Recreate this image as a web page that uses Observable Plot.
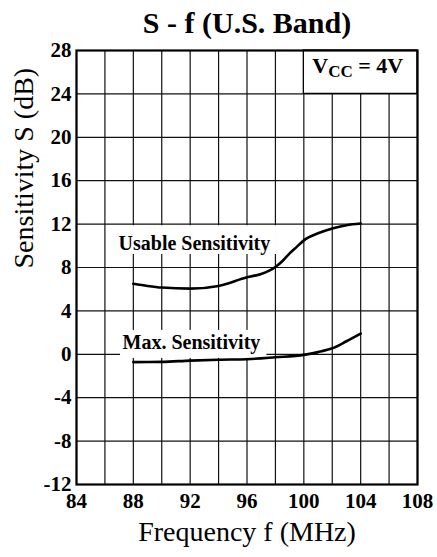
<!DOCTYPE html>
<html><head><meta charset="utf-8">
<script src="https://cdn.jsdelivr.net/npm/d3@7"></script>
<script src="https://cdn.jsdelivr.net/npm/@observablehq/plot@0.6"></script>
<style>
html,body{margin:0;padding:0;background:#fff;}
svg{display:block}
svg text, svg tspan{font-family:"Liberation Serif","Times New Roman","DejaVu Serif",serif !important;}
</style>
</head><body><div id="chart"></div>
<script>
// ---- data ----
const title = "S - f (U.S. Band)";
const xLabel = "Frequency f (MHz)";
const yLabel = "Sensitivity S (dB)";
const xTicks = [84, 88, 92, 96, 100, 104, 108];
const xGrid = [84, 86, 88, 90, 92, 94, 96, 98, 100, 102, 104, 106, 108];
const yTicks = [-12, -8, -4, 0, 4, 8, 12, 16, 20, 24, 28];
const seriesNames = ["Usable Sensitivity", "Max. Sensitivity"];
const usableFreq = [88, 89, 90, 92, 94, 96, 97, 98, 98.5, 99, 99.5, 100, 101, 102, 103, 104];
const usableSens = [6.5, 6.3, 6.15, 6.05, 6.3, 7.1, 7.4, 8.05, 8.6, 9.3, 9.9, 10.5, 11.15, 11.6, 11.9, 12.05];
const maxFreq = [88, 90, 92, 94, 96, 98, 100, 101, 102, 103, 104];
const maxSens = [-0.72, -0.7, -0.58, -0.5, -0.45, -0.27, -0.05, 0.2, 0.55, 1.2, 1.9];
const vccParts = ["V", "CC", " = 4V"];

// ---- build ----
const usable = usableFreq.map((f, i) => ({f, s: usableSens[i]}));
const maxS = maxFreq.map((f, i) => ({f, s: maxSens[i]}));
const vccText = vccParts.join("");
const font = "Liberation Serif";

// annotation placement (data coordinates)
const vccBox = [{x1: 100, x2: 108, y1: 24, y2: 28}];
const labelBoxes = [
  {x1: 86.7, x2: 98.1, y1: 9.2, y2: 11.85},
  {x1: 87.1, x2: 97.4, y1: -0.38, y2: 2.2}
];
const labelPos = [
  {text: seriesNames[0], x: 86.96, y: 9.6},
  {text: seriesNames[1], x: 87.24, y: 0.53}
];

const plot = Plot.plot({
  width: 437, height: 557,
  marginTop: 50, marginLeft: 76, marginRight: 20, marginBottom: 73,
  style: {fontFamily: font, background: "white", color: "black"},
  x: {domain: [84, 108]},
  y: {domain: [-12, 28]},
  marks: [
    Plot.ruleX(xGrid, {stroke: "#111", strokeWidth: 1.2}),
    Plot.ruleY(yTicks, {stroke: "#111", strokeWidth: 1.2}),
    Plot.rect(labelBoxes, {x1: "x1", x2: "x2", y1: "y1", y2: "y2", fill: "white"}),
    Plot.rect(vccBox, {x1: "x1", x2: "x2", y1: "y1", y2: "y2", fill: "white", stroke: "black", strokeWidth: 1.3}),
    Plot.line(usable, {x: "f", y: "s", curve: "monotone-x", stroke: "black", strokeWidth: 2.6}),
    Plot.line(maxS, {x: "f", y: "s", curve: "monotone-x", stroke: "black", strokeWidth: 2.6}),
    Plot.frame({stroke: "black", strokeWidth: 2.2}),
    Plot.axisX({ticks: xTicks, tickFormat: d => String(d), tickSize: 0, tickPadding: 9, fontSize: 21, fontWeight: "bold", fontFamily: font, label: null}),
    Plot.axisY({ticks: yTicks, tickFormat: d => String(d), tickSize: 0, tickPadding: 5, fontSize: 21, fontWeight: "bold", fontFamily: font, label: null}),
    Plot.text([title], {text: d => d, frameAnchor: "top", dy: -18, lineAnchor: "bottom", fontSize: 30, fontWeight: "bold", fontFamily: font}),
    Plot.text([xLabel], {text: d => d, frameAnchor: "bottom", dy: 56, lineAnchor: "bottom", fontSize: 28, fontFamily: font}),
    Plot.text([yLabel], {text: d => d, frameAnchor: "left", dx: -44, dy: 1, rotate: -90, lineAnchor: "bottom", fontSize: 28, fontFamily: font}),
    Plot.text(labelPos, {x: "x", y: "y", text: "text", textAnchor: "start", lineAnchor: "bottom", fontSize: 20, fontWeight: "bold", fontFamily: font}),
    Plot.text([vccText], {text: d => d, x: () => 100.6, y: () => 25.97, textAnchor: "start", lineAnchor: "bottom", fontSize: 22, fontWeight: "bold", fontFamily: font})
  ]
});

// subscript for V_CC
d3.select(plot).selectAll("text").filter(function() { return this.textContent === vccText; }).each(function() {
  const t = d3.select(this);
  t.text(null);
  t.append("tspan").text(vccParts[0]);
  t.append("tspan").attr("font-size", 17).attr("dy", 4).text(vccParts[1]);
  t.append("tspan").attr("dy", -4).text(vccParts[2]);
});

document.getElementById("chart").appendChild(plot);
</script>
</body></html>
